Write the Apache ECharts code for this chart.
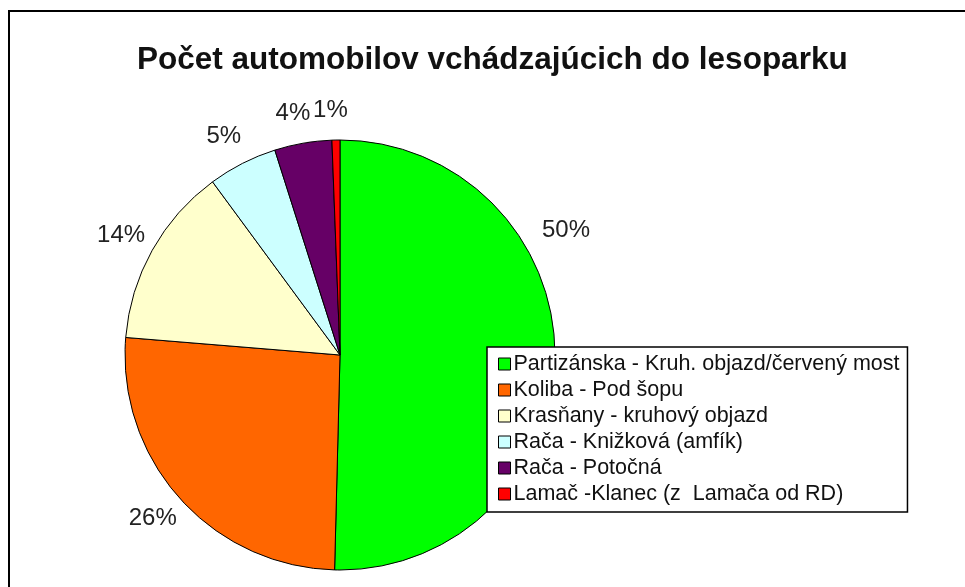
<!DOCTYPE html>
<html>
<head>
<meta charset="utf-8">
<script src="https://cdn.jsdelivr.net/npm/echarts@6/dist/echarts.min.js"></script>
<style>
  html, body { margin: 0; padding: 0; background: #fff; }
  #chart { width: 965px; height: 587px; }
</style>
</head>
<body>
<div id="chart"></div>
<script>
// data (share of cars, %)
const titleText = 'Počet automobilov vchádzajúcich do lesoparku'
const categories = [
  'Partizánska - Kruh. objazd/červený most',
  'Koliba - Pod šopu',
  'Krasňany - kruhový objazd',
  'Rača - Knižková (amfík)',
  'Rača - Potočná',
  'Lamač -Klanec (z  Lamača od RD)'
]
const values = [50.4, 25.9, 13.6, 5.2, 4.3, 0.6]
const colors = ['#00ff00', '#ff6600', '#ffffcc', '#ccffff', '#660066', '#ff0000']

const font = 'Arial, "Liberation Sans", sans-serif'

const myChart = echarts.init(document.getElementById('chart'))

const option = {
  backgroundColor: '#fff',
  animation: false,
  title: {
    text: titleText,
    left: 137,
    top: 44,
    padding: 0,
    textStyle: {
      color: '#111',
      fontFamily: font,
      fontSize: 31.5,
      fontWeight: 'bold'
    }
  },
  graphic: [
    {
      // outer chart frame (runs off the right and bottom edge)
      type: 'rect',
      shape: { x: 9, y: 11, width: 1000, height: 700 },
      style: { fill: 'none', stroke: '#000', lineWidth: 2 },
      silent: true
    }
  ],
  legend: {
    orient: 'vertical',
    left: 487,
    top: 347,
    padding: [6, 8, 7, 11],
    itemGap: 4,
    itemWidth: 12,
    itemHeight: 12,
    backgroundColor: '#fff',
    borderColor: '#000',
    borderWidth: 1.5,
    icon: 'rect',
    itemStyle: { borderColor: '#000', borderWidth: 1 },
    textStyle: {
      color: '#111',
      fontFamily: font,
      fontSize: 21.5,
      padding: [0, 0, 0, -2]
    },
    data: categories
  },
  series: [
    {
      type: 'pie',
      center: [340, 355],
      radius: 215,
      startAngle: 90,
      clockwise: true,
      avoidLabelOverlap: false,
      percentPrecision: 0,
      z: 1,
      itemStyle: { borderColor: '#000', borderWidth: 1 },
      label: {
        show: true,
        position: 'outside',
        formatter: '{d}%',
        color: '#222',
        fontFamily: font,
        fontSize: 24
      },
      labelLine: { show: false, length: 30, length2: 0 },
      labelLayout: function (p) {
        const o = { align: 'center', verticalAlign: 'middle' }
        // Excel put the big slice's label up above the legend
        if (p.dataIndex === 0) {
          o.dx = -24
          o.dy = -128
        }
        return o
      },
      emphasis: { disabled: true },
      data: categories.map((name, i) => ({
        name,
        value: values[i],
        itemStyle: { color: colors[i] }
      }))
    }
  ]
}

myChart.setOption(option)
</script>
</body>
</html>
